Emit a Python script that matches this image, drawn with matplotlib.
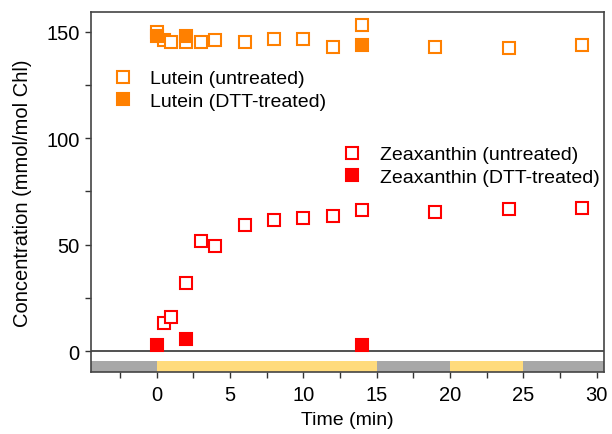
import numpy as np
import matplotlib.pyplot as plt

plt.rcParams['font.family'] = ['Liberation Sans', 'DejaVu Sans']

# Lutein, untreated
lut_t = [0, 0.5, 1, 2, 3, 4, 6, 8, 10, 12, 14, 19, 24, 29]
lut_c = [149.7, 146.3, 145.0, 145.0, 145.0, 146.0, 145.0, 146.6, 146.6, 143.0, 153.2, 143.0, 142.4, 143.9]
# Lutein, DTT-treated
lut_dtt_t = [0, 2, 14]
lut_dtt_c = [148.0, 147.8, 143.8]
# Zeaxanthin, untreated
zea_t = [0.5, 1, 2, 3, 4, 6, 8, 10, 12, 14, 19, 24, 29]
zea_c = [13.3, 16.1, 31.9, 51.9, 49.4, 59.2, 61.4, 62.7, 63.5, 66.1, 65.3, 66.7, 67.4]
# Zeaxanthin, DTT-treated
zea_dtt_t = [0, 2, 14]
zea_dtt_c = [2.8, 5.6, 2.8]

# light/dark periods (start, end, colour)
periods = [(-4.5, 0, 'dark'), (0, 15, 'light'), (15, 20, 'dark'), (20, 25, 'light'), (25, 30.5, 'dark')]

orange = '#FF8000'
red = '#FF0000'
bar_col = {'dark': '#A8A8A8', 'light': '#FFDB7C'}

fig = plt.figure(figsize=(6.12, 4.35), dpi=100)
ax = fig.add_axes([0.148, 0.1425, 0.839, 0.8275])

ms = 8.5
mew = 1.5
ax.plot(lut_t, lut_c, 's', ms=ms, mfc='white', mec=orange, mew=mew, ls='none', label='Lutein (untreated)')
ax.plot(lut_dtt_t, lut_dtt_c, 's', ms=ms, mfc=orange, mec=orange, mew=mew, ls='none', label='Lutein (DTT-treated)')
ax.plot(zea_t, zea_c, 's', ms=ms, mfc='white', mec=red, mew=mew, ls='none', label='Zeaxanthin (untreated)')
ax.plot(zea_dtt_t, zea_dtt_c, 's', ms=ms, mfc=red, mec=red, mew=mew, ls='none', label='Zeaxanthin (DTT-treated)')

ax.axhline(0, color='#333333', lw=1.2, zorder=1)

for s, e, kind in periods:
    ax.broken_barh([(s, e - s)], (-9.8, 5.1), facecolor=bar_col[kind], edgecolor='none', zorder=0)

ax.set_xlim(-4.5, 30.5)
ax.set_ylim(-9.8, 159.2)
ax.set_xticks([0, 5, 10, 15, 20, 25, 30])
ax.set_xticks(np.arange(-2.5, 30.1, 2.5), minor=True)
ax.set_yticks([0, 50, 100, 150])
ax.set_yticks([25, 75, 125], minor=True)
ax.tick_params(which='both', direction='out', length=4.5, width=1, color='#333333', labelsize=14.5)
ax.tick_params(axis='x', which='both', top=False, pad=5)
ax.tick_params(axis='y', which='both', right=False, pad=3.5)
for sp in ax.spines.values():
    sp.set_color('#444444')
    sp.set_linewidth(1.2)

ax.set_xlabel('Time (min)', fontsize=14, labelpad=5)
ax.set_ylabel('Concentration (mmol/mol Chl)', fontsize=14.5, labelpad=10)

h, l = ax.get_legend_handles_labels()
leg1 = ax.legend(h[:2], l[:2], loc='upper left', bbox_to_anchor=(0.029, 0.861), frameon=False,
                 fontsize=14, handlelength=1.0, handletextpad=0.9, labelspacing=0.25, borderaxespad=0)
ax.add_artist(leg1)
ax.legend(h[2:], l[2:], loc='upper left', bbox_to_anchor=(0.476, 0.65), frameon=False,
          fontsize=14, handlelength=1.0, handletextpad=0.9, labelspacing=0.25, borderaxespad=0)

fig.savefig('out.png', dpi=100)
